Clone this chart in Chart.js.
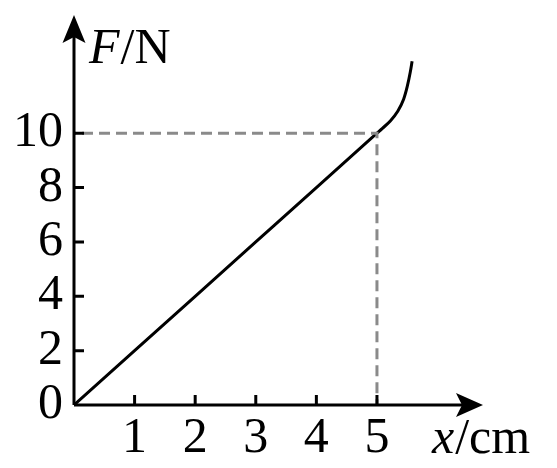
<!DOCTYPE html>
<html>
<head>
<meta charset="utf-8">
<script src="https://cdn.jsdelivr.net/npm/chart.js@4/dist/chart.umd.min.js"></script>
<style>
  html, body { margin: 0; padding: 0; background: #fff; }
  #wrap { width: 557px; height: 468px; position: relative; }
</style>
</head>
<body>
<div id="wrap"><canvas id="chart"></canvas></div>
<script>
// ── Data ─────────────────────────────────────────────────────────────
const stretchCm  = [0, 1, 2, 3, 4, 5, 5.09, 5.22, 5.34, 5.44, 5.5, 5.55, 5.58];
const forceN     = [0, 2, 4, 6, 8, 10, 10.18, 10.45, 10.8, 11.25, 11.72, 12.25, 12.65];
const guideX     = [0, 5, 5];
const guideY     = [10, 10, 0];
const xTicks     = [1, 2, 3, 4, 5];
const yTicks     = [0, 2, 4, 6, 8, 10];

const FONT = "'Liberation Serif', 'Times New Roman', serif";

// ── Axes with arrows, inner tick marks and titles ────────────────────
const axesPlugin = {
    id: 'axes',
    afterDatasetsDraw(chart) {
        const { ctx, chartArea: a, scales: { x, y } } = chart;
        const ox = x.getPixelForValue(0);
        const oy = y.getPixelForValue(0);
        ctx.save();
        ctx.strokeStyle = '#000';
        ctx.fillStyle = '#000';
        ctx.lineWidth = 3;

        // axis lines
        ctx.beginPath();
        ctx.moveTo(ox, oy);
        ctx.lineTo(a.right - 8, oy);
        ctx.moveTo(ox, oy);
        ctx.lineTo(ox, a.top + 8);
        ctx.stroke();

        // arrow heads
        ctx.beginPath();
        ctx.moveTo(a.right, oy);
        ctx.lineTo(a.right - 27, oy - 12);
        ctx.lineTo(a.right - 21, oy);
        ctx.lineTo(a.right - 27, oy + 12);
        ctx.closePath();
        ctx.fill();
        ctx.beginPath();
        ctx.moveTo(ox, a.top);
        ctx.lineTo(ox - 11.5, a.top + 28);
        ctx.lineTo(ox, a.top + 22);
        ctx.lineTo(ox + 11.5, a.top + 28);
        ctx.closePath();
        ctx.fill();

        // tick marks pointing inward
        ctx.beginPath();
        xTicks.forEach(v => {
            const px = x.getPixelForValue(v);
            ctx.moveTo(px, oy);
            ctx.lineTo(px, oy - 10);
        });
        yTicks.slice(1).forEach(v => {
            const py = y.getPixelForValue(v);
            ctx.moveTo(ox, py);
            ctx.lineTo(ox + 10, py);
        });
        ctx.stroke();

        // titles: F/N and x/cm
        ctx.textBaseline = 'alphabetic';
        ctx.textAlign = 'left';
        ctx.font = 'italic 50px ' + FONT;
        ctx.fillText('F', 89, 63);
        let w = ctx.measureText('F').width;
        ctx.font = '50px ' + FONT;
        ctx.fillText('/N', 89 + w + 1, 63);

        ctx.font = 'italic 50px ' + FONT;
        ctx.fillText('x', 432, 453);
        w = ctx.measureText('x').width;
        ctx.font = '50px ' + FONT;
        ctx.fillText('/cm', 432 + w + 1, 453);
        ctx.restore();
    }
};

// ── Chart ────────────────────────────────────────────────────────────
new Chart(document.getElementById('chart'), {
    type: 'scatter',
    data: {
        datasets: [
            {
                data: guideX.map((v, i) => ({ x: v, y: guideY[i] })),
                showLine: true,
                borderColor: '#8a8a8a',
                borderWidth: 3,
                borderDash: [11, 6],
                borderDashOffset: -8,
                pointRadius: 0,
                tension: 0,
            },
            {
                data: stretchCm.map((v, i) => ({ x: v, y: forceN[i] })),
                showLine: true,
                borderColor: '#000',
                borderWidth: 3,
                pointRadius: 0,
                cubicInterpolationMode: 'monotone',
            },
        ],
    },
    plugins: [axesPlugin],
    options: {
        responsive: true,
        maintainAspectRatio: false,
        animation: false,
        events: [],
        layout: { padding: { left: 0, top: 15, right: 74, bottom: 0 } },
        plugins: { legend: { display: false }, tooltip: { enabled: false } },
        scales: {
            x: {
                type: 'linear',
                min: 0,
                max: 6.75,
                grid: { display: false, drawTicks: false },
                border: { display: false },
                afterBuildTicks: s => { s.ticks = xTicks.map(v => ({ value: v })); },
                afterFit: s => { s.height = 63; s.paddingLeft = 0; s.paddingRight = 0; },
                ticks: { color: '#000', padding: 4, font: { family: FONT, size: 50 } },
            },
            y: {
                type: 'linear',
                min: 0,
                max: 14.35,
                grid: { display: false, drawTicks: false },
                border: { display: false },
                afterBuildTicks: s => { s.ticks = yTicks.map(v => ({ value: v })); },
                afterFit: s => { s.width = 74; s.paddingTop = 0; s.paddingBottom = 0; },
                ticks: { color: '#000', padding: 11, font: { family: FONT, size: 50 } },
            },
        },
    },
});
</script>
</body>
</html>
